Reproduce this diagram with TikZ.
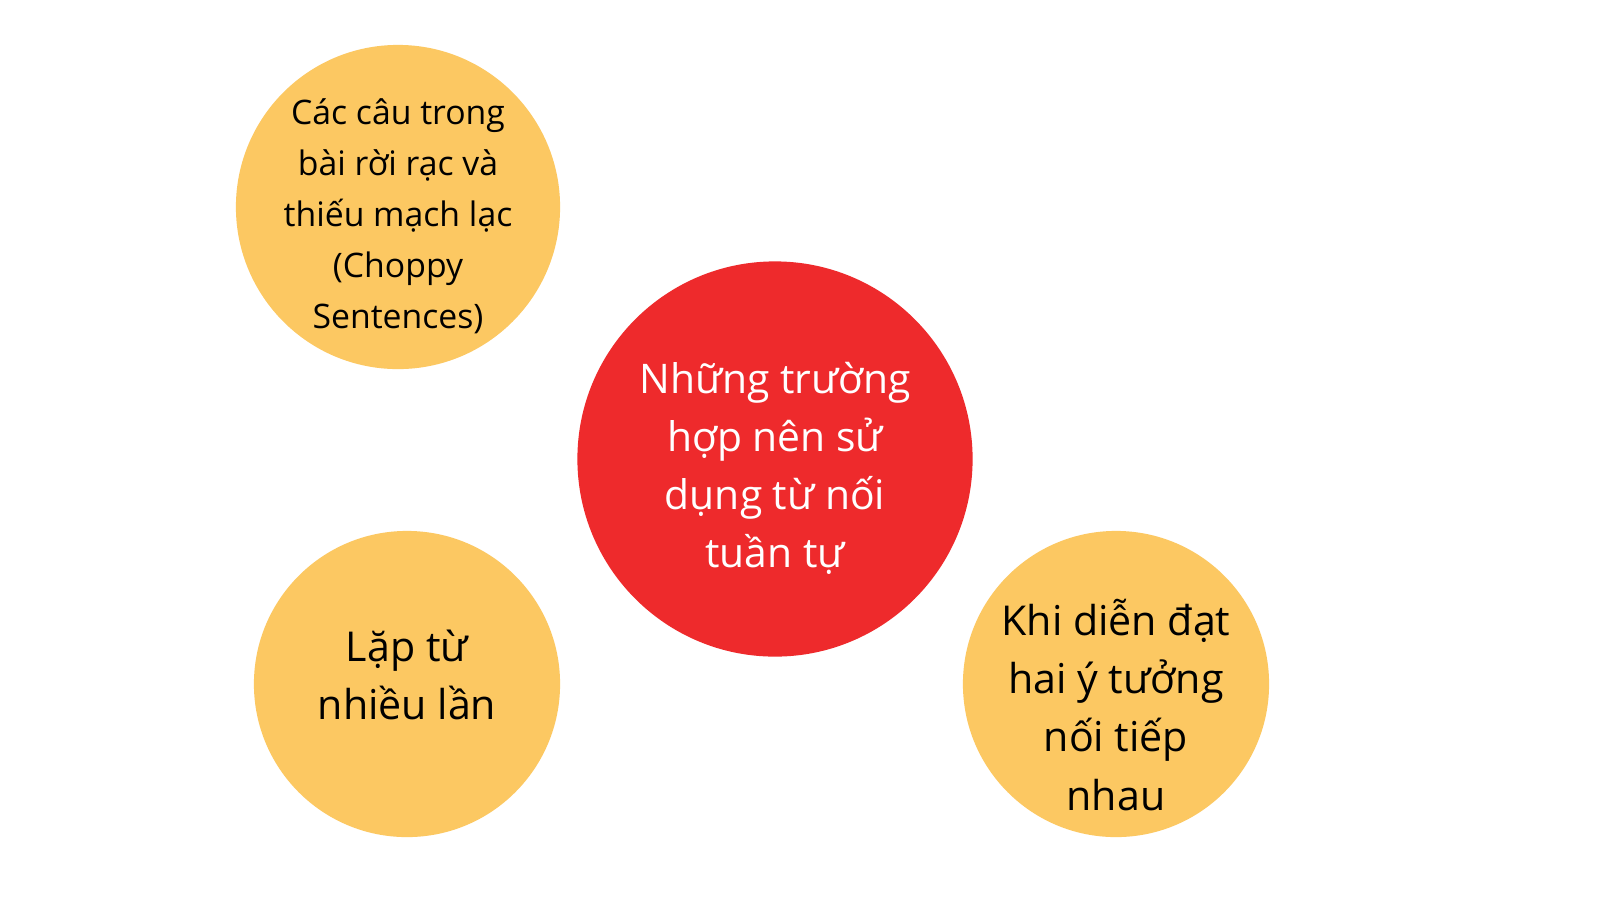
\documentclass[tikz,border=0pt]{standalone}
\usepackage{fontspec}
\setmainfont{Open Sans}
\usetikzlibrary{calc}
\definecolor{yel}{HTML}{FCC862}
\definecolor{redc}{HTML}{EE2A2C}
\begin{document}
\begin{tikzpicture}[x=0.01cm,y=-0.01cm,
  bubble/.style={circle,inner sep=0pt,draw=none},
  lbl/.style={align=center,inner sep=0pt}]
\useasboundingbox[fill=white] (0,0) rectangle (1600,899);
\node[bubble,fill=yel,minimum size=3.24cm] (a) at (398,207) {};
\node[bubble,fill=redc,minimum size=3.95cm] (b) at (775,459) {};
\node[bubble,fill=yel,minimum size=3.06cm] (c) at (407,684) {};
\node[bubble,fill=yel,minimum size=3.06cm] (d) at (1116,684) {};
\node[lbl,font=\fontsize{9.6pt}{14.5pt}\selectfont] (ta) at ($(a)+(0,9)$) {Các câu trong\\bài rời rạc và\\thiếu mạch lạc\\(Choppy\\Sentences)};
\node[lbl,text=white,font=\fontsize{11.6pt}{16.5pt}\selectfont] (tb) at ($(b)+(0,9)$) {Những trường\\hợp nên sử\\dụng từ nối\\tuần tự};
\node[lbl,font=\fontsize{11.7pt}{16.5pt}\selectfont] (tc) at ($(c)+(0,-9)$) {Lặp từ\\nhiều lần};
\node[lbl,font=\fontsize{11.7pt}{16.5pt}\selectfont] (td) at ($(d)+(0,21)$) {Khi diễn đạt\\hai ý tưởng\\nối tiếp\\nhau};
\end{tikzpicture}
\end{document}
